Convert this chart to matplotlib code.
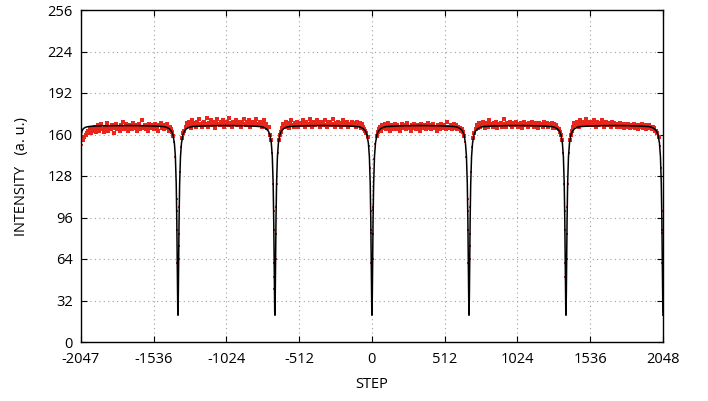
import numpy as np
import matplotlib
matplotlib.use('Agg')
import matplotlib.pyplot as plt

plt.rcParams['font.family'] = ['Open Sans', 'DejaVu Sans']
plt.rcParams['axes.unicode_minus'] = False

# measured intensity, one sample every 8 steps starting at -2047
red_y = [
    143, 152, 156, 158, 160, 161, 163, 162, 164, 161, 165, 163, 166, 162, 164, 167,
    163, 165, 168, 164, 162, 166, 165, 169, 163, 166, 164, 167, 165, 161, 166, 168,
    164, 166, 163, 167, 165, 170, 164, 166, 168, 163, 165, 167, 166, 164, 169, 165,
    167, 163, 166, 168, 164, 166, 171, 165, 167, 164, 166, 163, 168, 166, 165, 167,
    164, 168, 166, 165, 163, 167, 169, 165, 166, 164, 167, 165, 168, 163, 166, 164,
    162, 159, 154, 143, 110,
    30,
    74, 131, 150, 157, 161, 163,
    166, 169, 167, 170, 168, 165, 171, 168, 169, 166, 170, 167, 172, 168, 166, 169,
    170, 167, 168, 173, 166, 169, 171, 167, 168, 170, 165, 169, 172, 168, 167, 170,
    168, 171, 166, 169, 170, 167, 173, 168, 169, 166, 170, 168, 171, 167, 169, 168,
    170, 166, 169, 172, 168, 167, 170, 169, 171, 166, 168, 170, 167, 169, 172, 168,
    167, 170, 168, 166, 169, 171, 167, 168, 165, 166,
    160, 156, 146, 122, 50, 50, 122, 146, 156, 160, 162,
    165, 168, 166, 170, 167, 169, 165, 168, 171, 167, 166, 169, 168, 170, 166, 168,
    169, 167, 171, 168, 166, 170, 168, 167, 172, 169, 166, 168, 170, 167, 169, 171,
    168, 166, 170, 168, 169, 167, 171, 166, 168, 170, 169, 167, 168, 172, 166, 169,
    167, 170, 168, 169, 166, 171, 168, 167, 169, 170, 166, 168, 167, 170, 169, 167,
    168, 166, 170, 167, 169, 165, 168, 166, 164, 163,
    161, 158, 151, 134, 84, 23, 102, 141, 153, 159, 162,
    164, 166, 163, 167, 165, 168, 164, 166, 169, 165, 163, 167, 166, 164, 168, 165,
    167, 164, 166, 163, 168, 165, 167, 166, 164, 169, 165, 166, 163, 167, 165, 168,
    166, 164, 167, 165, 163, 168, 166, 165, 167, 164, 166, 169, 165, 167, 164, 166,
    168, 165, 166, 163, 167, 166, 164, 168, 165, 167, 166, 164, 170, 165, 166, 167,
    164, 166, 168, 165, 167, 164, 166, 165, 163, 164, 162,
    159, 154, 143, 110, 30, 74, 131, 150, 157, 161,
    164, 167, 165, 169, 166, 168, 167, 170, 165, 168, 169, 166, 171, 167, 168, 166,
    169, 167, 170, 165, 168, 167, 169, 166, 168, 172, 167, 166, 169, 168, 170, 167,
    166, 168, 169, 167, 170, 166, 168, 167, 169, 165, 168, 170, 167, 168, 166, 169,
    167, 168, 170, 166, 169, 167, 168, 165, 169, 167, 168, 166, 170, 168, 167, 169,
    166, 168, 167, 169, 165, 168, 166, 167, 165, 164, 162,
    160, 156, 146, 122, 50, 50, 122, 146, 156, 160,
    163, 166, 169, 167, 170, 168, 166, 171, 169, 167, 170, 168, 172, 167, 169, 168,
    170, 167, 169, 171, 168, 166, 170, 169, 167, 168, 171, 169, 166, 168, 170, 167,
    169, 168, 166, 170, 167, 169, 168, 166, 168, 167, 169, 166, 168, 167, 165, 168,
    166, 168, 167, 165, 167, 166, 168, 165, 167, 166, 164, 167, 166, 168, 165, 166,
    167, 164, 166, 165, 167, 165, 164, 166, 165, 163, 163,
    161, 158, 151, 134, 84,
]
red_x = -2047 + 8 * np.arange(len(red_y))

# extra samples inside each dip
dip_centers = [-1365, -683, 0, 683, 1365, 2048]
dip_offsets = [-9, -7, -5, -3, -1, 0, 1, 3, 5, 7, 9]
dip_red = [101, 86, 61, 41, 25, 21, 24, 38, 64, 83, 104]

# fitted curve around one dip (same shape for every dip)
fit_offsets = [-341, -250, -180, -130, -100, -80, -60, -45, -35, -25, -18, -12, -8, -5, -3, -1, 0,
               1, 3, 5, 8, 12, 18, 25, 35, 45, 60, 80, 100, 130, 180, 250, 341]
fit_values = [166.9, 166.8, 166.6, 166.3, 166.1, 165.6, 164.4, 162.5, 159.7, 153.4, 143, 122, 94, 62, 39, 23, 21,
              23, 39, 62, 94, 122, 143, 153.4, 159.7, 162.5, 164.4, 165.6, 166.1, 166.3, 166.6, 166.8, 166.9]

# fitted curve at the left edge
lead_x = [-2047, -2044, -2040, -2034, -2025, -2012, -1995, -1960, -1900, -1800, -1706]
lead_y = [157, 160.5, 162.5, 164, 165, 165.7, 166.1, 166.5, 166.7, 166.8, 166.9]

xticks = [-2047, -1536, -1024, -512, 0, 512, 1024, 1536, 2048]
yticks = [0, 32, 64, 96, 128, 160, 192, 224, 256]

fig = plt.figure(figsize=(7.08, 4.01), dpi=100)
ax = fig.add_axes([81 / 708, 1 - 342 / 401, 582 / 708, 332 / 401])

# red data points
dx, dy = [], []
for c in dip_centers:
    for o, v in zip(dip_offsets, dip_red):
        if c + o <= 2048:
            dx.append(c + o)
            dy.append(v)
all_x = np.concatenate([red_x, dx])
all_y = np.concatenate([red_y, dy])
top = all_y >= 155
ax.plot(all_x[top], all_y[top], 's', color='#e8261c', markersize=3.0,
        markeredgewidth=0, zorder=2)
ax.plot(all_x[~top], all_y[~top], 's', color='#e8261c', markersize=1.6,
        markeredgewidth=0, zorder=2)

# black fit line
fx, fy = list(lead_x), list(lead_y)
for c in dip_centers:
    for o, v in zip(fit_offsets, fit_values):
        if c + o <= 2048:
            fx.append(c + o)
            fy.append(v)
order = np.argsort(fx, kind='stable')
ax.plot(np.array(fx)[order], np.array(fy)[order], color='black', lw=1.1, zorder=3)

ax.set_xlim(-2047, 2048)
ax.set_ylim(0, 256)
ax.set_xticks(xticks)
ax.set_yticks(yticks)
ax.tick_params(direction='in', top=True, right=True, length=4.5, width=0.8,
               labelsize=10.5, color='black')
ax.tick_params(axis='x', pad=7)
ax.tick_params(axis='y', pad=6)
ax.grid(True, color='#a0a0a0', linestyle=(0, (1, 3)), lw=0.8)
ax.set_axisbelow(True)
for s in ax.spines.values():
    s.set_linewidth(1.0)

fig.text(22 / 708, 1 - 176 / 401, 'INTENSITY   (a. u.)', rotation=90,
         ha='center', va='center', fontsize=10.5)
fig.text(372 / 708, 1 - 384 / 401, 'STEP', ha='center', va='center', fontsize=10.5)

fig.savefig('out.png', dpi=100)
